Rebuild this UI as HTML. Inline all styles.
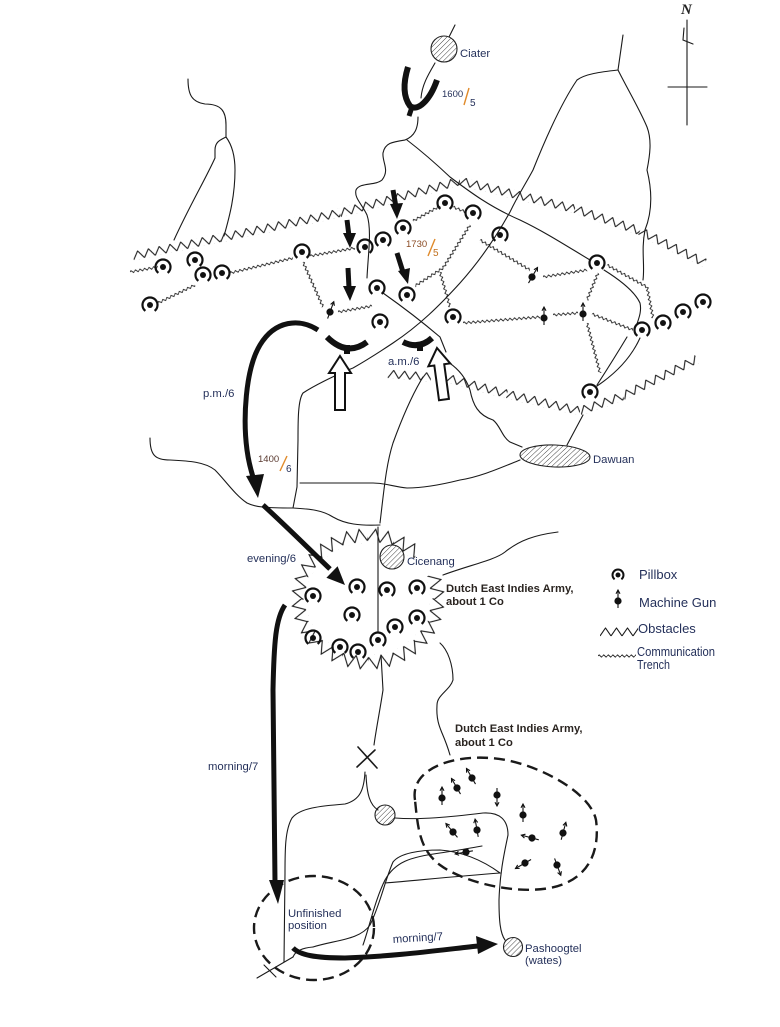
<!DOCTYPE html>
<html><head><meta charset="utf-8"><style>
html,body{margin:0;padding:0;background:#fff;}
svg{display:block;}
text{font-family:"Liberation Sans",Arial,sans-serif;fill:#24305a;}
.b{font-weight:bold;fill:#2a2420;font-size:11.2px;}
.l{font-size:11.3px;}
.lg{font-size:13px;}
</style></head><body>
<svg xmlns="http://www.w3.org/2000/svg" width="780" height="1027" viewBox="0 0 780 1027">
<defs>
<pattern id="h" patternUnits="userSpaceOnUse" width="3.6" height="3.6" patternTransform="rotate(45)">
<line x1="0" y1="0" x2="0" y2="3.6" stroke="#333" stroke-width="0.9"/>
</pattern>
<pattern id="zo" patternUnits="userSpaceOnUse" x="0" y="-4.5" width="11" height="9">
<path d="M0,8.5 L5.5,0.5 L11,8.5" fill="none" stroke="#1a1a1a" stroke-width="1.1"/>
</pattern>
<pattern id="zr" patternUnits="userSpaceOnUse" x="0" y="-10" width="12.6" height="15">
<path d="M0,13.5 L6.3,1 L12.6,13.5" fill="none" stroke="#1a1a1a" stroke-width="1.1"/>
</pattern>
<pattern id="zt" patternUnits="userSpaceOnUse" x="0" y="-2" width="4.6" height="4">
<path d="M0,2 L1.15,0.9 L3.45,3.1 L4.6,2" fill="none" stroke="#1a1a1a" stroke-width="0.85"/>
</pattern>
<g id="pb"><path d="M4.62,5.91 A7.5,7.5 0 1 0 -4.62,5.91" fill="none" stroke="#111" stroke-width="2.2"/><circle cx="0" cy="0" r="3" fill="#111"/></g>
<g id="pbs"><path d="M3.39,4.33 A5.5,5.5 0 1 0 -3.39,4.33" fill="none" stroke="#111" stroke-width="2"/><circle cx="0" cy="0" r="2.5" fill="#111"/></g>
<g id="mg"><line x1="0" y1="7" x2="0" y2="-11" stroke="#111" stroke-width="1.1"/><path d="M-2,-7.3 L0,-11 L2,-7.3" fill="none" stroke="#111" stroke-width="1.1"/><circle cx="0" cy="0" r="3.6" fill="#111"/></g>
</defs>
<g fill="none" stroke="#1a1a1a" stroke-width="1.1" stroke-linecap="round">
<path d="M188,79 C188,95 192,102 205,104 C222,104 226,112 226,125 L226,137 C220,140 215,142 215,150 L215,158 C205,180 190,205 174,240"/>
<path d="M226,137 C232,145 235,155 235,170 C235,195 230,215 224,236"/>
<path d="M455,25 L449,37"/>
<path d="M435,63 C428,75 422,85 421,98"/>
<path d="M418,117 C418,128 415,136 405,140 C392,142 385,143 383,153 C382,162 390,170 382,180 C375,186 360,182 356,190 C354,198 362,204 367,215 C372,230 368,255 367,278"/>
<path d="M407,140 C420,150 432,160 450,177 C470,192 490,207 520,220 C545,232 565,245 590,260"/>
<path d="M604,270 C620,280 635,292 640,303 C642,312 638,320 637,324"/>
<path d="M640,338 C630,360 612,376 597,386"/>
<path d="M597,385 C608,368 618,352 627,337"/>
<path d="M623,35 L618,70 C600,72 585,74 577,80 C560,105 545,140 533,170 C525,185 518,195 510,212 C500,230 485,255 460,283 C440,305 420,325 393,343 C375,355 360,364 353,368 C340,373 315,385 303,393 C298,400 298,420 298,440 L297,487 L293,508"/>
<path d="M618,70 C628,90 640,110 647,127 C652,140 650,155 647,170 C652,190 653,210 645,230 C641,250 645,265 643,280"/>
<path d="M383,293 C400,305 420,320 440,337 L446,352"/>
<path d="M441,358 C455,365 465,375 470,390 C473,405 478,415 493,420 C500,425 502,437 510,442 L522,447"/>
<path d="M567,445 L583,415"/>
<path d="M520,460 C500,468 480,477 460,480 C440,485 420,488 407,488 C395,487 385,483 373,483 L300,483"/>
<path d="M150,438 C150,455 155,460 170,460 C190,461 205,462 215,470 C225,480 235,495 247,503 C255,507 265,508 293,508 C310,509 322,510 333,517 C345,524 360,526 380,525"/>
<path d="M380,523 C384,490 386,465 393,443 C405,410 415,390 423,377"/>
<path d="M558,532 C535,535 520,540 505,552 C495,560 470,565 443,575"/>
<path d="M378,527 L378,632"/>
<path d="M381,655 L383,690 C380,710 376,730 374,745"/>
<path d="M440,643 C448,650 453,665 453,680 C450,690 437,695 437,705 C436,720 440,728 442,733 C445,740 448,748 450,755"/>
<path d="M358,747 L377,768 M375,750 L357,767" stroke-width="1.6"/>
<path d="M365,772 C364,790 360,800 345,804 C320,806 300,808 292,818 C285,830 285,850 285,873 L284,962"/>
<path d="M366,775 C367,795 370,805 378,810"/>
<path d="M395,818 C420,820 450,817 483,813 C500,812 508,820 508,835 C505,850 500,870 499,900 C499,920 500,933 505,940"/>
<path d="M313,947 C335,940 360,940 370,925 C380,905 385,880 393,862 C400,853 420,850 440,850 C465,852 485,862 500,873"/>
<path d="M363,945 C370,925 375,900 385,880 C395,862 410,857 440,853 C455,851 470,848 482,846"/>
<path d="M385,883 C420,880 460,876 500,873"/>
<path d="M257,978 L293,957 M264,965 L276,977"/>
<path d="M313,947 C300,948 295,952 293,957"/>
<path d="M687,20 L687,125 M668,87 L707,87 M684,28 L683,40 L693,44"/>
</g>
<!-- obstacles -->
<g fill="url(#zo)">
<rect x="0" y="-4.5" width="88.8" height="9" transform="translate(133 256) rotate(-11.7)"/>
<rect x="0" y="-4.5" width="122.6" height="9" transform="translate(220 238) rotate(-11.8)"/>
<rect x="0" y="-4.5" width="124.2" height="9" transform="translate(340 213) rotate(-14.9)"/>
<rect x="0" y="-4.5" width="118.4" height="9" transform="translate(460 181) rotate(13.7)"/>
<rect x="0" y="-4.5" width="68.6" height="9" transform="translate(575 209) rotate(18.7)"/>
<rect x="0" y="-4.5" width="72.4" height="9" transform="translate(640 231) rotate(26.2)"/>
<rect x="0" y="-4.5" width="43.1" height="9" transform="translate(388 374) rotate(4)"/>
<rect x="0" y="-4.5" width="62.1" height="9" transform="translate(447 378) rotate(14.9)"/>
<rect x="0" y="-4.5" width="75" height="9" transform="translate(507 394) rotate(13.1)"/>
<rect x="0" y="-4.5" width="45.5" height="9" transform="translate(580 411) rotate(-19.2)"/>
<rect x="0" y="-4.5" width="82.7" height="9" transform="translate(623 396) rotate(-26.6)"/>
<rect x="0" y="-4.5" width="38" height="9" transform="translate(600 632)"/>
</g>
<!-- Cicenang ring -->
<g fill="url(#zr)">
<rect x="0" y="-10" width="24.3" height="15" transform="translate(436 599) rotate(102.4)"/>
<rect x="0" y="-10" width="24.9" height="15" transform="translate(430.8 622.7) rotate(126.2)"/>
<rect x="0" y="-10" width="25.9" height="15" transform="translate(416.1 642.8) rotate(148.6)"/>
<rect x="0" y="-10" width="26.4" height="15" transform="translate(394 656.3) rotate(169.8)"/>
<rect x="0" y="-10" width="26.4" height="15" transform="translate(368 661) rotate(190.2)"/>
<rect x="0" y="-10" width="25.9" height="15" transform="translate(342 656.3) rotate(211.4)"/>
<rect x="0" y="-10" width="24.9" height="15" transform="translate(319.9 642.8) rotate(233.8)"/>
<rect x="0" y="-10" width="24.3" height="15" transform="translate(305.2 622.7) rotate(257.6)"/>
<rect x="0" y="-10" width="24.3" height="15" transform="translate(300 599) rotate(-77.6)"/>
<rect x="0" y="-10" width="24.9" height="15" transform="translate(305.2 575.3) rotate(-53.8)"/>
<rect x="0" y="-10" width="25.9" height="15" transform="translate(319.9 555.2) rotate(-31.4)"/>
<rect x="0" y="-10" width="26.4" height="15" transform="translate(342 541.7) rotate(-10.2)"/>
<rect x="0" y="-10" width="26.4" height="15" transform="translate(368 537) rotate(10.2)"/>
<rect x="0" y="-10" width="25.9" height="15" transform="translate(394 541.7) rotate(31.4)"/>
<rect x="0" y="-10" width="24.3" height="15" transform="translate(430.8 575.3) rotate(77.6)"/>
</g>
<!-- trenches -->
<g fill="url(#zt)">
<rect x="0" y="-2" width="28.4" height="4" transform="translate(130 272) rotate(-10.1)"/>
<rect x="0" y="-2" width="64.8" height="4" transform="translate(230 273) rotate(-13.4)"/>
<rect x="0" y="-2" width="41.1" height="4" transform="translate(158 303) rotate(-25.9)"/>
<rect x="0" y="-2" width="45.7" height="4" transform="translate(310 256) rotate(-10.1)"/>
<rect x="0" y="-2" width="49.2" height="4" transform="translate(303 262) rotate(66)"/>
<rect x="0" y="-2" width="34.5" height="4" transform="translate(338 312) rotate(-10)"/>
<rect x="0" y="-2" width="30.9" height="4" transform="translate(413 221) rotate(-29.1)"/>
<rect x="0" y="-2" width="13.9" height="4" transform="translate(453 207) rotate(21)"/>
<rect x="0" y="-2" width="50.8" height="4" transform="translate(470 225) rotate(122.1)"/>
<rect x="0" y="-2" width="33.3" height="4" transform="translate(443 268) rotate(147.3)"/>
<rect x="0" y="-2" width="36.4" height="4" transform="translate(440 272) rotate(74.1)"/>
<rect x="0" y="-2" width="58.3" height="4" transform="translate(480 240) rotate(31)"/>
<rect x="0" y="-2" width="44.6" height="4" transform="translate(543 277) rotate(-9)"/>
<rect x="0" y="-2" width="29.2" height="4" transform="translate(598 273) rotate(112.2)"/>
<rect x="0" y="-2" width="45.7" height="4" transform="translate(607 265) rotate(28.8)"/>
<rect x="0" y="-2" width="31.6" height="4" transform="translate(647 287) rotate(79)"/>
<rect x="0" y="-2" width="77.2" height="4" transform="translate(463 323) rotate(-4.5)"/>
<rect x="0" y="-2" width="25.1" height="4" transform="translate(553 315) rotate(-4.6)"/>
<rect x="0" y="-2" width="44" height="4" transform="translate(592 314) rotate(21.3)"/>
<rect x="0" y="-2" width="51.7" height="4" transform="translate(587 323) rotate(75.4)"/>
<rect x="0" y="-2" width="38" height="4" transform="translate(598 656)"/>
</g>
<!-- hatched places -->
<g stroke="#222" stroke-width="1.1">
<circle cx="444" cy="49" r="13" fill="url(#h)"/>
<circle cx="392" cy="557" r="12" fill="url(#h)"/>
<circle cx="385" cy="815" r="10" fill="url(#h)"/>
<circle cx="513" cy="947" r="9.5" fill="url(#h)"/>
<ellipse cx="555" cy="456" rx="35" ry="11" fill="url(#h)" transform="rotate(2 555 456)"/>
</g>
<!-- dashed positions -->
<g fill="none" stroke="#1a1a1a" stroke-width="2.4" stroke-dasharray="11,6">
<path d="M415,800 C410,770 450,755 490,758 C530,760 590,790 596,820 C600,850 590,880 550,888 C510,895 460,880 440,865 C420,850 418,830 415,800 Z"/>
<ellipse cx="314" cy="928" rx="60" ry="52"/>
</g>
<!-- thick arrows -->
<g fill="none" stroke="#111" stroke-width="5" stroke-linecap="butt">
<path d="M318,330 C300,318 275,320 260,345 C245,370 243,420 247,450 C249,465 252,474 254,480"/>
<path d="M263,505 C285,525 305,545 330,569"/>
<path d="M285,605 C276,618 274,640 273,690 L275,882"/>
<path d="M293,948 C300,955 315,958 345,958 C400,956 440,950 478,946"/>
<path d="M327,337 Q347,357 367,342" stroke-width="6"/>
<path d="M403,342 Q419,350 432,338" stroke-width="6"/>
<path d="M408,67 C404,80 402,95 410,106 C418,112 430,100 437,80" stroke-width="6"/>
<path d="M412,107 L409,116"/>
<path d="M393,190 L396,207"/>
<path d="M347,220 L349,236"/>
<path d="M348,268 L349,288"/>
<path d="M397,253 L403,272"/>
</g>
<g fill="#111">
<polygon points="258,498 246,476 264,474"/>
<polygon points="345,585 326.4,577.7 337.6,566.3"/>
<polygon points="278,904 269,880 284,880"/>
<polygon points="498,944 476,936 478,954"/>
<rect x="344" y="345" width="6" height="9"/>
<rect x="417" y="343" width="6" height="8"/>
<polygon points="397,219 390,204 403,203"/>
<polygon points="350,248 343,233 356,233"/>
<polygon points="350,301 343,286 356,286"/>
<polygon points="408,284 398,271 410,268"/>
</g>
<g fill="#fff" stroke="#111" stroke-width="2">
<polygon points="340,356 351,373 345,373 345,410 335,410 335,373 329,373"/>
<polygon points="437,348 448,365 442,365 442,400 432,400 432,365 426,365" transform="rotate(-7.7 437 348)"/>
</g>
<!-- pillboxes -->
<use href="#pb" x="163" y="267"/><use href="#pb" x="195" y="260"/><use href="#pb" x="203" y="275"/><use href="#pb" x="222" y="273"/><use href="#pb" x="150" y="305"/>
<use href="#pb" x="302" y="252"/><use href="#pb" x="365" y="247"/><use href="#pb" x="383" y="240"/><use href="#pb" x="403" y="228"/><use href="#pb" x="445" y="203"/>
<use href="#pb" x="473" y="213"/><use href="#pb" x="500" y="235"/><use href="#pb" x="377" y="288"/><use href="#pb" x="407" y="295"/><use href="#pb" x="380" y="322"/>
<use href="#pb" x="453" y="317"/><use href="#pb" x="597" y="263"/><use href="#pb" x="642" y="330"/><use href="#pb" x="663" y="323"/><use href="#pb" x="683" y="312"/>
<use href="#pb" x="703" y="302"/><use href="#pb" x="590" y="392"/>
<use href="#pb" x="357" y="587"/><use href="#pb" x="313" y="596"/><use href="#pb" x="387" y="590"/><use href="#pb" x="417" y="588"/><use href="#pb" x="352" y="615"/>
<use href="#pb" x="417" y="618"/><use href="#pb" x="395" y="627"/><use href="#pb" x="313" y="638"/><use href="#pb" x="340" y="647"/><use href="#pb" x="358" y="652"/><use href="#pb" x="378" y="640"/>
<use href="#pbs" x="618" y="575"/>
<!-- machine guns -->
<use href="#mg" transform="translate(532 277) rotate(30)"/>
<use href="#mg" transform="translate(544 318)"/>
<use href="#mg" transform="translate(583 314)"/>
<use href="#mg" transform="translate(330 312) rotate(20)"/>
<use href="#mg" transform="translate(442 798)"/>
<use href="#mg" transform="translate(457 788) rotate(-30)"/>
<use href="#mg" transform="translate(472 778) rotate(-30)"/>
<use href="#mg" transform="translate(497 795) rotate(180)"/>
<use href="#mg" transform="translate(523 815)"/>
<use href="#mg" transform="translate(453 832) rotate(-40)"/>
<use href="#mg" transform="translate(477 830) rotate(-10)"/>
<use href="#mg" transform="translate(532 838) rotate(-75)"/>
<use href="#mg" transform="translate(563 833) rotate(15)"/>
<use href="#mg" transform="translate(466 852) rotate(-100)"/>
<use href="#mg" transform="translate(525 863) rotate(-120)"/>
<use href="#mg" transform="translate(557 865) rotate(160)"/>
<use href="#mg" transform="translate(618 601)"/>
<!-- labels -->
<text x="460" y="57" class="l">Ciater</text>
<text x="442" y="97" style="font-size:9.5px">1600</text>
<line x1="464" y1="105" x2="469" y2="88" stroke="#e08a2a" stroke-width="1.4"/>
<text x="470" y="106" style="font-size:10px">5</text>
<text x="406" y="247" style="font-size:9.5px;fill:#8a4a22">1730</text>
<line x1="428" y1="256" x2="435" y2="239" stroke="#e08a2a" stroke-width="1.4"/>
<text x="433" y="256" style="font-size:10px;fill:#c07020">5</text>
<text x="388" y="365" class="l">a.m./6</text>
<text x="203" y="397" class="l">p.m./6</text>
<text x="258" y="462" style="font-size:9.5px;fill:#5a3a30">1400</text>
<line x1="280" y1="471" x2="287" y2="456" stroke="#e08a2a" stroke-width="1.4"/>
<text x="286" y="472" style="font-size:10px">6</text>
<text x="593" y="463" class="l">Dawuan</text>
<text x="247" y="562" class="l">evening/6</text>
<text x="407" y="565" class="l">Cicenang</text>
<text x="446" y="592" class="b">Dutch East Indies Army,</text>
<text x="446" y="605" class="b">about 1 Co</text>
<text x="208" y="770" class="l">morning/7</text>
<text x="455" y="732" class="b">Dutch East Indies Army,</text>
<text x="455" y="746" class="b">about 1 Co</text>
<text x="288" y="917" class="l">Unfinished</text>
<text x="288" y="929" class="l">position</text>
<text x="393" y="943" class="l" transform="rotate(-3.5 393 943)">morning/7</text>
<text x="525" y="952" class="l">Pashoogtel</text>
<text x="525" y="964" class="l">(wates)</text>
<text x="681" y="14" style="font-family:'Liberation Serif',serif;font-style:italic;font-weight:bold;font-size:15px;fill:#222">N</text>
<text x="639" y="579" class="lg">Pillbox</text>
<text x="639" y="607" class="lg">Machine Gun</text>
<text x="638" y="633" class="lg">Obstacles</text>
<text x="637" y="656" style="font-size:12.5px" textLength="78" lengthAdjust="spacingAndGlyphs">Communication</text>
<text x="637" y="669" style="font-size:12.5px" textLength="33" lengthAdjust="spacingAndGlyphs">Trench</text>
</svg>
</body></html>
